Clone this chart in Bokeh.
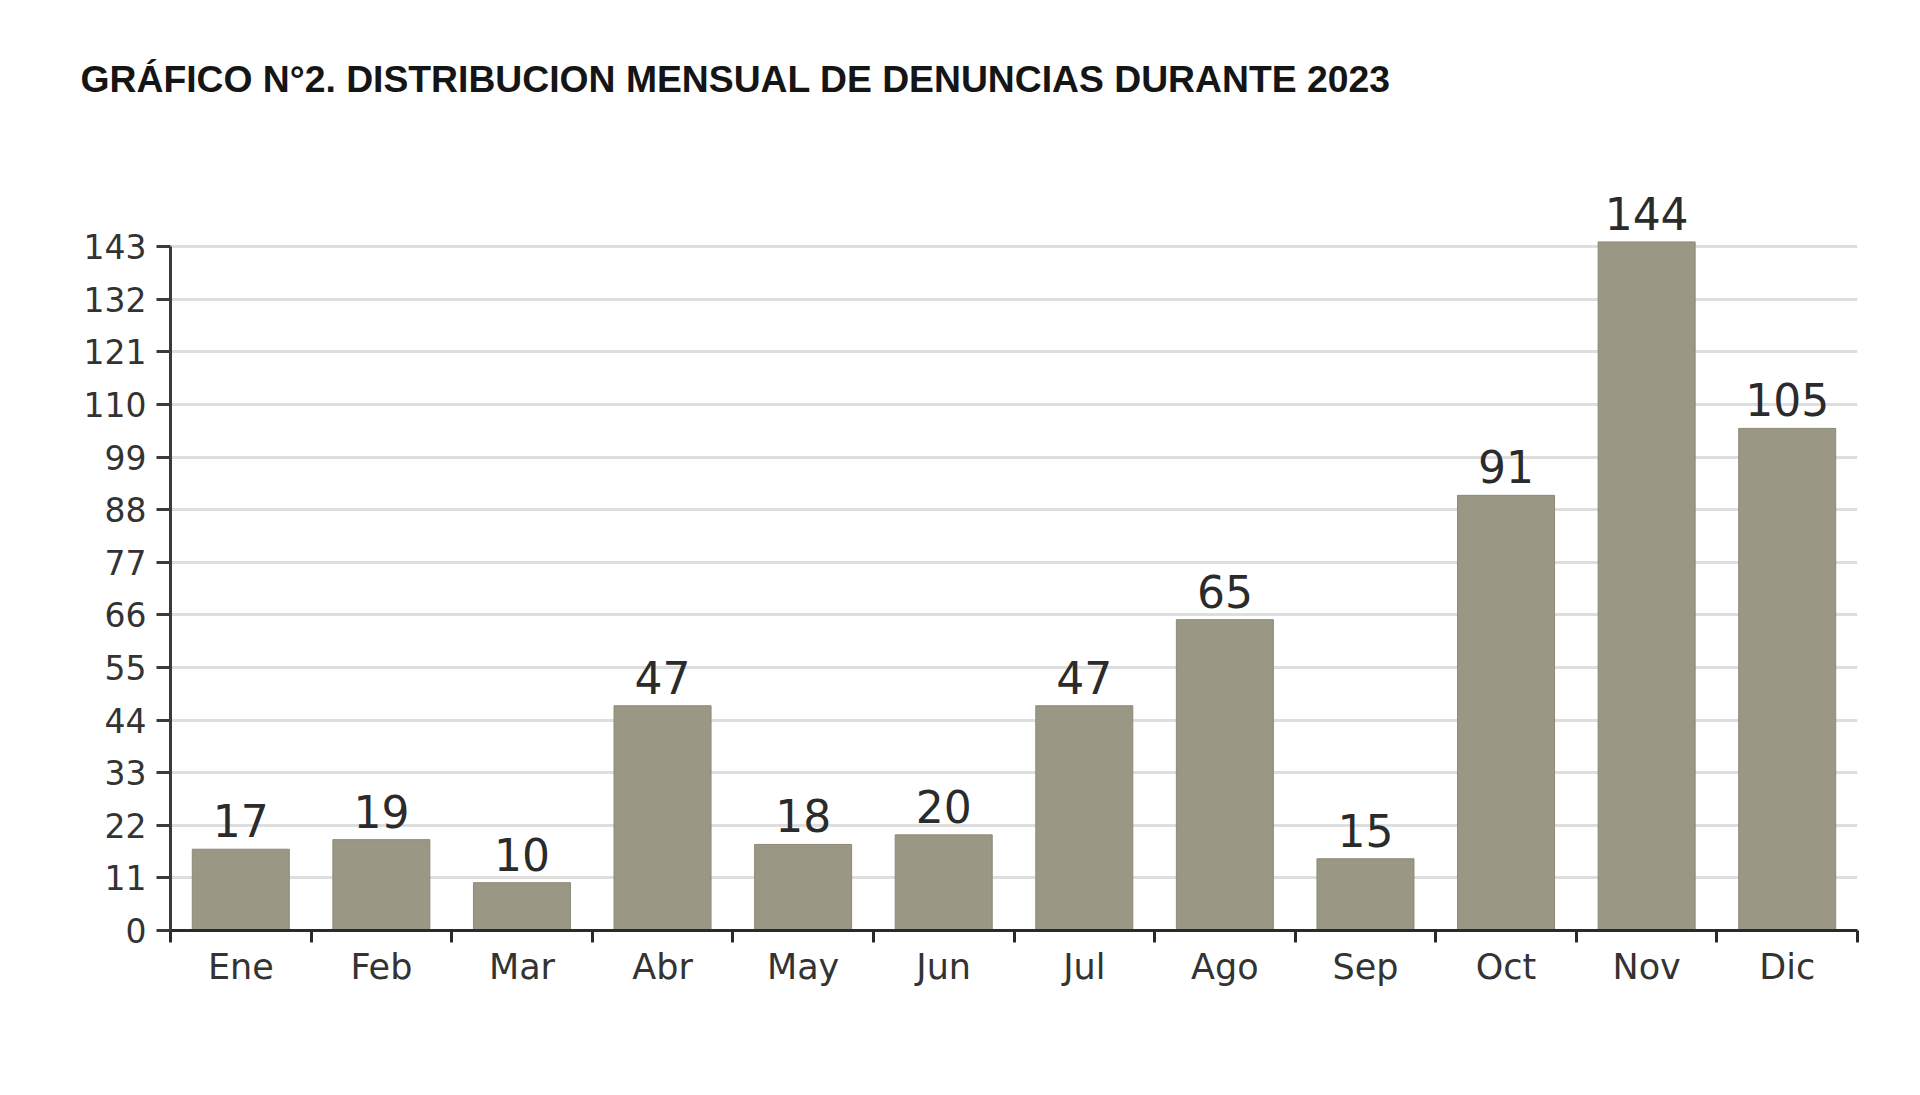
from bokeh.plotting import figure
from bokeh.models import Range1d, FixedTicker, ColumnDataSource
from bokeh.core.properties import value
from bokeh.embed import file_html
from bokeh.resources import INLINE

# --- data ---
months = ["Ene", "Feb", "Mar", "Abr", "May", "Jun", "Jul", "Ago", "Sep", "Oct", "Nov", "Dic"]
counts = [17, 19, 10, 47, 18, 20, 47, 65, 15, 91, 144, 105]
y_ticks = [0, 11, 22, 33, 44, 55, 66, 77, 88, 99, 110, 121, 132, 143]
title_text = "GRÁFICO N°2. DISTRIBUCION MENSUAL DE DENUNCIAS DURANTE 2023"

centers = [i + 0.5 for i in range(len(months))]
bounds_x = list(range(len(months) + 1))

src = ColumnDataSource(dict(x=centers, top=counts, label=[str(v) for v in counts]))

p = figure(width=1912, height=1087, output_backend="svg", toolbar_location=None,
           x_range=Range1d(0, len(months)), y_range=Range1d(0, 165),
           min_border_left=170, min_border_right=55, min_border_top=141, min_border_bottom=157)
p.outline_line_color = None
p.background_fill_color = "white"
p.border_fill_color = "white"

# title
p.title.text = title_text
p.title.text_font = "Liberation Sans"
p.title.text_font_style = "bold"
p.title.text_font_size = "37.3px"
p.title.text_color = "#151515"
p.title.align = "left"
p.title.offset = -90
p.title.standoff = 83

# bars
p.vbar(x="x", top="top", width=0.69, bottom=0, source=src,
       fill_color="#9a9785", line_color="#8c8978", line_width=1)

# value labels
p.text(x="x", y="top", text="label", source=src, y_offset=-12,
       text_align="center", text_baseline="bottom",
       text_font=value("DejaVu Sans"), text_font_size="44px", text_color="#2b2b2b")

# grid
p.xgrid.visible = False
p.ygrid.ticker = FixedTicker(ticks=y_ticks)
p.ygrid.grid_line_color = "#dedede"
p.ygrid.grid_line_width = 3

# y axis
ya = p.yaxis[0]
ya.ticker = FixedTicker(ticks=y_ticks)
ya.bounds = (0, 143)
ya.axis_line_color = "#3a3a3a"
ya.axis_line_width = 3
ya.major_tick_out = 14
ya.major_tick_in = 0
ya.major_tick_line_color = "#3a3a3a"
ya.major_tick_line_width = 3
ya.minor_tick_line_color = None
ya.major_label_standoff = 10
ya.major_label_text_font = "DejaVu Sans"
ya.major_label_text_font_size = "33px"
ya.major_label_text_color = "#333333"

# x axis
xa = p.xaxis[0]
xa.ticker = FixedTicker(ticks=centers, minor_ticks=bounds_x)
xa.major_label_overrides = {c: m for c, m in zip(centers, months)}
xa.bounds = (0, len(months))
xa.axis_line_color = "#2a2a2a"
xa.axis_line_width = 3
xa.major_tick_out = 0
xa.major_tick_in = 0
xa.major_tick_line_color = None
xa.minor_tick_out = 12
xa.minor_tick_in = 0
xa.minor_tick_line_color = "#2a2a2a"
xa.minor_tick_line_width = 3
xa.major_label_standoff = 4
xa.major_label_text_font = "DejaVu Sans"
xa.major_label_text_font_size = "35px"
xa.major_label_text_color = "#333333"

open("out.html", "w").write(file_html(p, INLINE))
